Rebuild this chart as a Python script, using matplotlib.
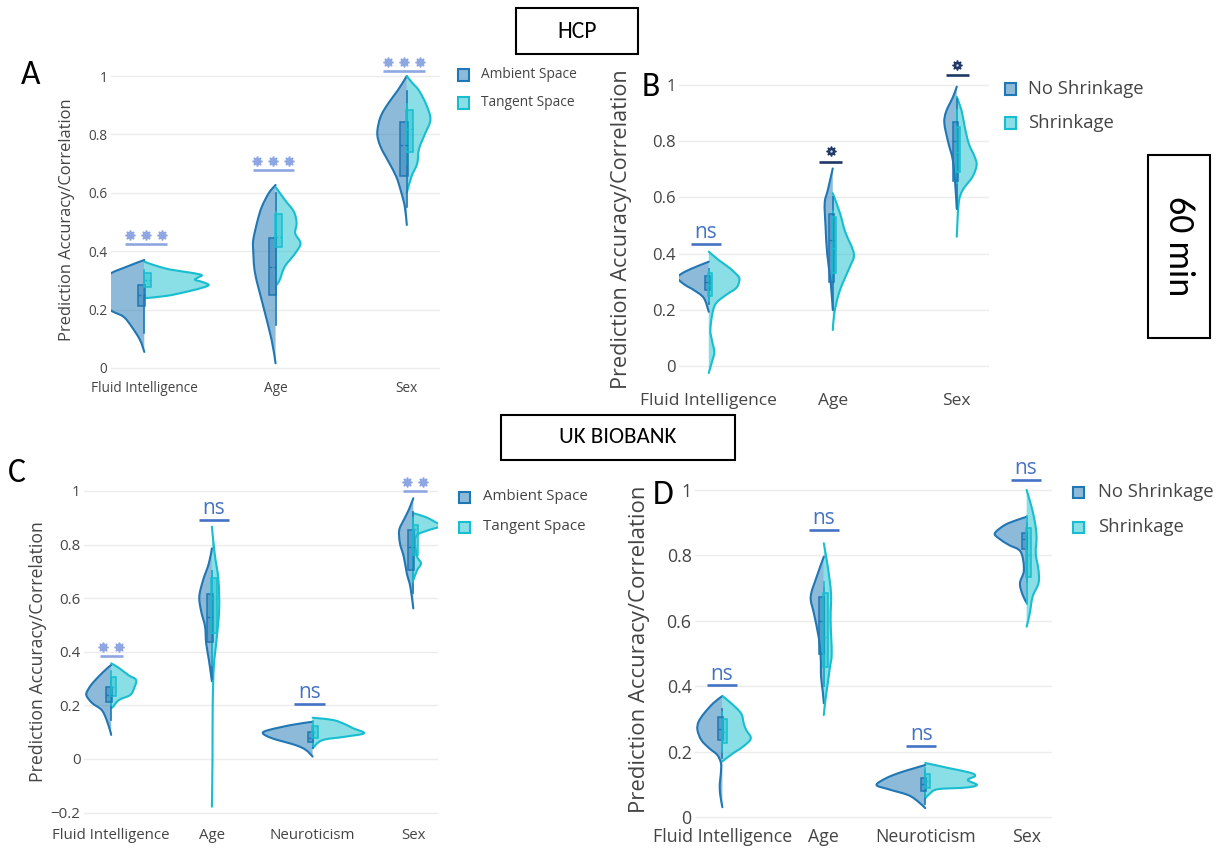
import matplotlib
matplotlib.use('Agg')
import matplotlib.pyplot as plt
from matplotlib import font_manager
from matplotlib.path import Path
from matplotlib.patches import PathPatch, Rectangle
from matplotlib.transforms import ScaledTranslation
import matplotlib.colors as mcolors

# ---------------------------------------------------------------- data
HCP_categories = ['Fluid Intelligence', 'Age', 'Sex']
UKB_categories = ['Fluid Intelligence', 'Age', 'Neuroticism', 'Sex']
AC_series = ['Ambient Space', 'Tangent Space']
BD_series = ['No Shrinkage', 'Shrinkage']

# violin half profiles: value levels (y) and half widths (w, category units)
A_amb_y = [[0.055, 0.096, 0.141, 0.176, 0.199, 0.24, 0.28, 0.32, 0.347, 0.37],
           [0.016, 0.096, 0.21, 0.324, 0.40, 0.438, 0.50, 0.552, 0.60, 0.627],
           [0.49, 0.552, 0.604, 0.655, 0.707, 0.758, 0.804, 0.86, 0.907, 0.952, 1.0]]
A_amb_w = [[0, 0.033, 0.096, 0.16, 0.26, 0.32, 0.33, 0.27, 0.134, 0],
           [0, 0.03, 0.093, 0.156, 0.17, 0.17, 0.14, 0.105, 0.05, 0],
           [0, 0.015, 0.044, 0.08, 0.14, 0.2, 0.225, 0.2, 0.14, 0.067, 0]]
A_tan_y = [[0.239, 0.247, 0.262, 0.276, 0.285, 0.295, 0.302, 0.31, 0.318, 0.326, 0.337, 0.35, 0.364],
           [0.28, 0.30, 0.347, 0.393, 0.427, 0.461, 0.496, 0.535, 0.575, 0.62],
           [0.60, 0.655, 0.70, 0.75, 0.80, 0.85, 0.90, 0.95, 0.98, 1.0]]
A_tan_w = [[0, 0.17, 0.33, 0.45, 0.49, 0.44, 0.386, 0.41, 0.437, 0.36, 0.2, 0.09, 0],
           [0, 0.03, 0.07, 0.15, 0.19, 0.15, 0.16, 0.14, 0.072, 0],
           [0, 0.035, 0.079, 0.093, 0.137, 0.18, 0.15, 0.093, 0.035, 0]]

B_amb_y = [[0.193, 0.242, 0.27, 0.288, 0.306, 0.318, 0.336, 0.356, 0.371],
           [0.2, 0.295, 0.40, 0.496, 0.58, 0.626, 0.703],
           [0.56, 0.65, 0.733, 0.798, 0.864, 0.905, 0.958, 0.994]]
B_amb_w = [[0, 0.04, 0.12, 0.19, 0.24, 0.25, 0.19, 0.087, 0],
           [0, 0.016, 0.045, 0.058, 0.065, 0.04, 0],
           [0, 0.013, 0.032, 0.07, 0.10, 0.086, 0.03, 0]]
B_tan_y = [[-0.025, 0.021, 0.05, 0.093, 0.128, 0.188, 0.224, 0.253, 0.277, 0.30, 0.318, 0.348, 0.377, 0.407],
           [0.128, 0.188, 0.247, 0.295, 0.353, 0.40, 0.478, 0.544, 0.615],
           [0.46, 0.58, 0.626, 0.674, 0.715, 0.745, 0.793, 0.852, 0.91, 0.958]]
B_tan_w = [[0, 0.03, 0.045, 0.025, 0.013, 0.03, 0.06, 0.14, 0.22, 0.245, 0.24, 0.17, 0.08, 0],
           [0, 0.013, 0.042, 0.08, 0.138, 0.17, 0.10, 0.058, 0],
           [0, 0.016, 0.048, 0.128, 0.16, 0.144, 0.096, 0.064, 0.038, 0]]

C_amb_y = [[0.09, 0.102, 0.146, 0.183, 0.209, 0.239, 0.265, 0.289, 0.326, 0.351],
           [0.29, 0.37, 0.432, 0.494, 0.55, 0.606, 0.668, 0.73, 0.786],
           [0.009, 0.034, 0.052, 0.077, 0.096, 0.108, 0.127, 0.139],
           [0.562, 0.643, 0.693, 0.755, 0.805, 0.854, 0.892, 0.929, 0.973]]
C_amb_w = [[0, 0.008, 0.046, 0.095, 0.19, 0.247, 0.22, 0.171, 0.076, 0],
           [0, 0.03, 0.057, 0.068, 0.106, 0.125, 0.087, 0.03, 0],
           [0, 0.068, 0.171, 0.40, 0.494, 0.437, 0.209, 0],
           [0, 0.03, 0.065, 0.095, 0.133, 0.14, 0.095, 0.046, 0]]
C_tan_y = [[0.19, 0.195, 0.22, 0.239, 0.265, 0.295, 0.313, 0.34, 0.357],
           [-0.178, 0.0, 0.195, 0.344, 0.444, 0.556, 0.668, 0.768, 0.867],
           [0.04, 0.07, 0.083, 0.096, 0.115, 0.13, 0.145, 0.152, 0.154],
           [0.668, 0.705, 0.73, 0.755, 0.805, 0.836, 0.854, 0.869, 0.886, 0.904, 0.917]]
C_tan_w = [[0, 0.019, 0.076, 0.19, 0.228, 0.247, 0.171, 0.076, 0],
           [0, 0.006, 0.008, 0.019, 0.046, 0.072, 0.065, 0.027, 0],
           [0, 0.095, 0.32, 0.51, 0.40, 0.32, 0.21, 0.057, 0],
           [0, 0.038, 0.076, 0.038, 0.019, 0.038, 0.152, 0.27, 0.209, 0.114, 0]]

D_amb_y = [[0.03, 0.07, 0.10, 0.13, 0.164, 0.19, 0.21, 0.235, 0.266, 0.291, 0.317, 0.348, 0.37],
           [0.348, 0.383, 0.429, 0.49, 0.551, 0.623, 0.674, 0.735, 0.796],
           [0.027, 0.047, 0.067, 0.085, 0.098, 0.118, 0.134, 0.149, 0.159],
           [0.655, 0.679, 0.715, 0.755, 0.811, 0.832, 0.852, 0.868, 0.893, 0.908, 0.918]]
D_amb_w = [[0, 0.022, 0.026, 0.016, 0.014, 0.051, 0.129, 0.207, 0.246, 0.235, 0.18, 0.09, 0],
           [0, 0.01, 0.027, 0.031, 0.051, 0.098, 0.129, 0.07, 0],
           [0, 0.07, 0.168, 0.364, 0.48, 0.39, 0.266, 0.11, 0],
           [0, 0.039, 0.066, 0.027, 0.059, 0.176, 0.274, 0.313, 0.215, 0.098, 0]]
D_tan_y = [[0.17, 0.174, 0.195, 0.215, 0.24, 0.266, 0.286, 0.317, 0.348, 0.37],
           [0.312, 0.358, 0.409, 0.455, 0.50, 0.602, 0.684, 0.766, 0.837],
           [0.057, 0.072, 0.085, 0.09, 0.098, 0.113, 0.125, 0.135, 0.149, 0.16, 0.165],
           [0.582, 0.623, 0.674, 0.715, 0.755, 0.806, 0.857, 0.908, 0.959, 1.0]]
D_tan_w = [[0, 0.016, 0.106, 0.203, 0.28, 0.235, 0.211, 0.184, 0.086, 0],
           [0, 0.016, 0.039, 0.059, 0.078, 0.067, 0.071, 0.039, 0],
           [0, 0.047, 0.125, 0.40, 0.51, 0.42, 0.49, 0.45, 0.24, 0.08, 0],
           [0, 0.031, 0.059, 0.117, 0.117, 0.09, 0.098, 0.078, 0.039, 0]]

# inner boxes: (q1, median, q3, whisker low, whisker high)
A_amb_box = [(0.212, 0.25, 0.284, 0.12, 0.33), (0.25, 0.347, 0.445, 0.147, 0.60), (0.657, 0.765, 0.844, 0.55, 0.95)]
A_tan_box = [(0.278, 0.30, 0.325, 0.25, 0.335), (0.414, 0.45, 0.527, 0.28, 0.535), (0.741, 0.82, 0.884, 0.70, 0.905)]
B_amb_box = [(0.27, 0.30, 0.32, 0.22, 0.345), (0.30, 0.45, 0.54, 0.20, 0.60), (0.66, 0.80, 0.87, 0.56, 0.95)]
B_tan_box = [(0.25, 0.29, 0.33, 0.23, 0.34), (0.33, 0.42, 0.53, 0.30, 0.55), (0.69, 0.76, 0.85, 0.65, 0.91)]
C_amb_box = [(0.214, 0.24, 0.27, 0.146, 0.30), (0.438, 0.53, 0.616, 0.30, 0.70),
             (0.065, 0.08, 0.10, 0.04, 0.12), (0.705, 0.79, 0.854, 0.62, 0.92)]
C_tan_box = [(0.235, 0.27, 0.307, 0.20, 0.33), (0.47, 0.60, 0.674, 0.35, 0.70),
             (0.08, 0.10, 0.125, 0.05, 0.14), (0.76, 0.86, 0.873, 0.66, 0.90)]
D_amb_box = [(0.235, 0.27, 0.307, 0.18, 0.33), (0.50, 0.60, 0.674, 0.40, 0.70),
             (0.08, 0.10, 0.12, 0.04, 0.14), (0.82, 0.85, 0.87, 0.72, 0.90)]
D_tan_box = [(0.225, 0.26, 0.30, 0.20, 0.32), (0.46, 0.55, 0.684, 0.40, 0.72),
             (0.09, 0.11, 0.13, 0.06, 0.15), (0.735, 0.80, 0.883, 0.65, 0.92)]

# significance annotations
A_sig = ['***', '***', '***']
A_sig_y = [0.455, 0.709, 1.047]
A_sig_line = [0.424, 0.678, 1.018]
A_sig_span = [(-0.15, 0.17), (-0.175, 0.14), (-0.18, 0.14)]
B_sig = ['ns', '*', '*']
B_sig_y = [0.478, 0.765, 1.071]
B_sig_line = [0.434, 0.727, 1.036]
B_sig_span = [(-0.144, 0.10), (-0.11, 0.074), (-0.09, 0.10)]
C_sig = ['**', 'ns', 'ns', '**']
C_sig_y = [0.419, 0.94, 0.251, 1.035]
C_sig_line = [0.386, 0.892, 0.204, 1.001]
C_sig_span = [(-0.114, 0.114), (-0.133, 0.171), (-0.18, 0.125), (-0.103, 0.133)]
D_sig = ['ns', 'ns', 'ns', 'ns']
D_sig_y = [0.44, 0.917, 0.256, 1.069]
D_sig_line = [0.404, 0.878, 0.218, 1.031]
D_sig_span = [(-0.156, 0.145), (-0.149, 0.149), (-0.188, 0.11), (-0.156, 0.137)]

yticks_pos = [0, 0.2, 0.4, 0.6, 0.8, 1]
yticks_lab = ['0', '0.2', '0.4', '0.6', '0.8', '1']
yticks_pos_C = [-0.2, 0, 0.2, 0.4, 0.6, 0.8, 1]
yticks_lab_C = ['\u22120.2', '0', '0.2', '0.4', '0.6', '0.8', '1']
ylabel = 'Prediction Accuracy/Correlation'

# ---------------------------------------------------------------- style
W, H = 1222, 848
installed = {f.name for f in font_manager.fontManager.ttflist}


def pick(*names):
    for n in names:
        if n in installed:
            return n
    return 'DejaVu Sans'


BASE = pick('Open Sans', 'Noto Sans', 'DejaVu Sans')
NARROW = pick('Liberation Sans Narrow', 'Open Sans', 'DejaVu Sans')
LABEL = pick('Carlito', 'Open Sans', 'Noto Sans', 'DejaVu Sans')
LABEL_SCALE = 1.1 if LABEL == 'Carlito' else 1.0
NS_SIZE = 18 if NARROW == 'Liberation Sans Narrow' else 15
plt.rcParams['font.family'] = [BASE, 'DejaVu Sans']

C_AMB = '#1f77b4'
C_TAN = '#17becf'
TXT = '#444444'
STAR_LIGHT = '#8ea6e2'
STAR_DARK = '#1f3864'
NS_BLUE = '#4472c4'

fig = plt.figure(figsize=(W / 100, H / 100), dpi=100)
fig.patch.set_facecolor('white')
T = fig.dpi_scale_trans


def make_axes(xlim, xpx, y0px, y1px, ylim):
    s = y0px - y1px
    top = y0px - ylim[1] * s
    bot = y0px - ylim[0] * s
    ax = fig.add_axes([xpx[0] / W, 1 - bot / H, (xpx[1] - xpx[0]) / W, (bot - top) / H])
    ax.set_xlim(*xlim)
    ax.set_ylim(*ylim)
    for sp in ax.spines.values():
        sp.set_visible(False)
    ax.grid(axis='y', color='#ececec', lw=1.0, zorder=0)
    ax.set_axisbelow(True)
    ppc = (xpx[1] - xpx[0]) / (xlim[1] - xlim[0])
    return ax, ppc


def smooth(xs, ys):
    pts = list(zip(xs, ys))
    n = len(pts)
    verts = [pts[0]]
    codes = [Path.MOVETO]
    for i in range(n - 1):
        p0 = pts[i - 1] if i > 0 else pts[i]
        p1, p2 = pts[i], pts[i + 1]
        p3 = pts[i + 2] if i + 2 < n else pts[i + 1]
        c1 = (p1[0] + (p2[0] - p0[0]) / 6, p1[1] + (p2[1] - p0[1]) / 6)
        c2 = (p2[0] - (p3[0] - p1[0]) / 6, p2[1] - (p3[1] - p1[1]) / 6)
        verts += [c1, c2, p2]
        codes += [Path.CURVE4] * 3
    return verts, codes


def violin(ax, c, ys, ws, sgn, color):
    xs = [c + sgn * w for w in ws]
    v, cd = smooth(xs, ys)
    fv = v + [(c, ys[-1]), (c, ys[0]), (c, ys[0])]
    fc = cd + [Path.LINETO, Path.LINETO, Path.CLOSEPOLY]
    ax.add_patch(PathPatch(Path(fv, fc), facecolor=mcolors.to_rgba(color, 0.5),
                           edgecolor='none', zorder=2))
    ax.add_patch(PathPatch(Path(v, cd), facecolor='none', edgecolor=color, lw=1.5,
                           zorder=2.1, joinstyle='round', capstyle='round'))


def inner_box(ax, c, stats, sgn, color, bw):
    q1, med, q3, lo, hi = stats
    if sgn < 0:
        x0, x1 = c - bw, c + 0.006
    else:
        x0, x1 = c - 0.006, c + bw
    ax.plot([c, c], [lo, hi], color=color, lw=1.2, zorder=3)
    ax.add_patch(Rectangle((x0, q1), x1 - x0, q3 - q1, facecolor=mcolors.to_rgba(color, 0.45),
                           edgecolor=color, lw=1.1, zorder=3.1))
    ax.plot([x0, x1], [med, med], color=color, lw=1.0, ls=(0, (2, 1.5)), zorder=3.2)


def sig(ax, c, lab, ytxt, yline, span, ppc, star_color, line_color):
    ax.plot([c + span[0], c + span[1]], [yline, yline], color=line_color, lw=1.9,
            clip_on=False, solid_capstyle='butt', zorder=6)
    mid = c + (span[0] + span[1]) / 2
    if lab == 'ns':
        tr = ax.transData + ScaledTranslation(0, -6.5 / 100, T)
        ax.text(mid, ytxt, 'ns', ha='center', va='baseline', transform=tr, color=NS_BLUE,
                fontsize=NS_SIZE, family=[NARROW, 'DejaVu Sans'], zorder=6, clip_on=False)
    else:
        n = len(lab)
        step = 16.0 / ppc
        xs = [mid + (k - (n - 1) / 2) * step for k in range(n)]
        ax.plot(xs, [ytxt] * n, ls='none', marker=(8, 1, 0), ms=7.2, mew=1.0,
                color=star_color, mec=star_color, clip_on=False, zorder=6)
        if star_color == STAR_DARK:
            ax.plot(xs, [ytxt] * n, ls='none', marker='o', ms=1.8, mew=0,
                    color='#c8d2ea', clip_on=False, zorder=7)


def legend(xsq, xtxt, rows, labels, fs, sq=11):
    for y, lab, col in zip(rows, labels, [C_AMB, C_TAN]):
        fig.add_artist(Rectangle(((xsq - sq / 2) / 100, (H - y - sq / 2) / 100), sq / 100, sq / 100,
                                 transform=T, facecolor=mcolors.to_rgba(col, 0.5),
                                 edgecolor=col, lw=1.5))
        fig.text(xtxt / 100, (H - y) / 100, lab, transform=T, ha='left', va='center',
                 fontsize=fs, color=TXT)


def panel(cfg, cats, amb_y, amb_w, tan_y, tan_w, amb_box, tan_box,
          sigs, sig_y, sig_line, sig_span, star_color, line_color, yt, ytl):
    ax, ppc = make_axes(cfg['xlim'], cfg['xpx'], cfg['y0'], cfg['y1'], cfg['ylim'])
    for i in range(len(cats)):
        violin(ax, i, amb_y[i], amb_w[i], -1, C_AMB)
        inner_box(ax, i, amb_box[i], -1, C_AMB, cfg['bw'])
        violin(ax, i, tan_y[i], tan_w[i], 1, C_TAN)
        inner_box(ax, i, tan_box[i], 1, C_TAN, cfg['bw'])
    for i in range(len(cats)):
        lc = NS_BLUE if sigs[i] == 'ns' else line_color
        sig(ax, i, sigs[i], sig_y[i], sig_line[i], sig_span[i], ppc, star_color, lc)
    ax.set_xticks(range(len(cats)))
    ax.set_xticklabels(cats, fontsize=cfg['xfs'], color=TXT)
    ax.set_yticks(yt)
    ax.set_yticklabels(ytl, fontsize=cfg['yfs'], color=TXT)
    ax.tick_params(axis='x', length=0, pad=cfg['xpad'])
    ax.tick_params(axis='y', length=0, pad=2.5)
    fig.text(cfg['ylab'][0] / 100, (H - cfg['ylab'][1]) / 100, ylabel, transform=T,
             rotation=90, ha='center', va='center', fontsize=cfg['ylfs'], color=TXT)
    return ax


cfgA = dict(xlim=(-0.254, 2.253), xpx=(111, 440), y0=368, y1=76, ylim=(-0.02, 1.06), bw=0.05,
            xfs=9.8, yfs=9.8, xpad=5, ylab=(67, 220), ylfs=11.9)
cfgB = dict(xlim=(-0.24, 2.26), xpx=(679, 989), y0=366, y1=85, ylim=(-0.04, 1.03), bw=0.03,
            xfs=12.5, yfs=12, xpad=11, ylab=(622, 229), ylfs=15.6)
cfgC = dict(xlim=(-0.27, 3.245), xpx=(84, 438), y0=759, y1=491, ylim=(-0.21, 1.02), bw=0.05,
            xfs=10.8, yfs=10.8, xpad=9, ylab=(38, 652), ylfs=12.7)
cfgD = dict(xlim=(-0.27, 3.25), xpx=(695, 1052), y0=817, y1=490, ylim=(-0.01, 1.03), bw=0.045,
            xfs=12.8, yfs=12.8, xpad=5.3, ylab=(640, 649), ylfs=15.9)

panel(cfgA, HCP_categories, A_amb_y, A_amb_w, A_tan_y, A_tan_w, A_amb_box, A_tan_box,
      A_sig, A_sig_y, A_sig_line, A_sig_span, STAR_LIGHT, STAR_LIGHT, yticks_pos, yticks_lab)
panel(cfgB, HCP_categories, B_amb_y, B_amb_w, B_tan_y, B_tan_w, B_amb_box, B_tan_box,
      B_sig, B_sig_y, B_sig_line, B_sig_span, STAR_DARK, STAR_DARK, yticks_pos, yticks_lab)
panel(cfgC, UKB_categories, C_amb_y, C_amb_w, C_tan_y, C_tan_w, C_amb_box, C_tan_box,
      C_sig, C_sig_y, C_sig_line, C_sig_span, STAR_LIGHT, STAR_LIGHT, yticks_pos_C, yticks_lab_C)
panel(cfgD, UKB_categories, D_amb_y, D_amb_w, D_tan_y, D_tan_w, D_amb_box, D_tan_box,
      D_sig, D_sig_y, D_sig_line, D_sig_span, STAR_LIGHT, STAR_LIGHT, yticks_pos, yticks_lab)

legend(463.5, 481, (75, 103), AC_series, 9.9)
legend(1010.5, 1028, (89, 123), BD_series, 13.3)
legend(464.6, 483, (497, 527), AC_series, 10.8)
legend(1078.5, 1098, (492, 527), BD_series, 13.3)

# panel letters
for letter, (x, y) in zip('ABCD', [(31, 75), (651, 87), (17, 473), (663, 495)]):
    fig.text(x / 100, (H - y) / 100, letter, transform=T, ha='center', va='center',
             fontsize=22 * LABEL_SCALE, family=[LABEL, 'DejaVu Sans'], color='black')


def framed(x0, y0, x1, y1, text, fs, rot=0):
    fig.add_artist(Rectangle((x0 / 100, (H - y1) / 100), (x1 - x0) / 100, (y1 - y0) / 100,
                             transform=T, fill=False, edgecolor='black', lw=1.5))
    fig.text((x0 + x1) / 200, (H - (y0 + y1) / 2) / 100, text, transform=T, ha='center',
             va='center', rotation=rot, fontsize=fs, family=[LABEL, 'DejaVu Sans'], color='black')


framed(516, 8, 638, 54, 'HCP', 15.5 * LABEL_SCALE)
framed(501, 415, 735, 460, 'UK BIOBANK', 15 * LABEL_SCALE)
framed(1148, 155, 1210, 338, '60 min', 23.5 * LABEL_SCALE, rot=270)

fig.savefig('out.png', dpi=100, facecolor='white')
